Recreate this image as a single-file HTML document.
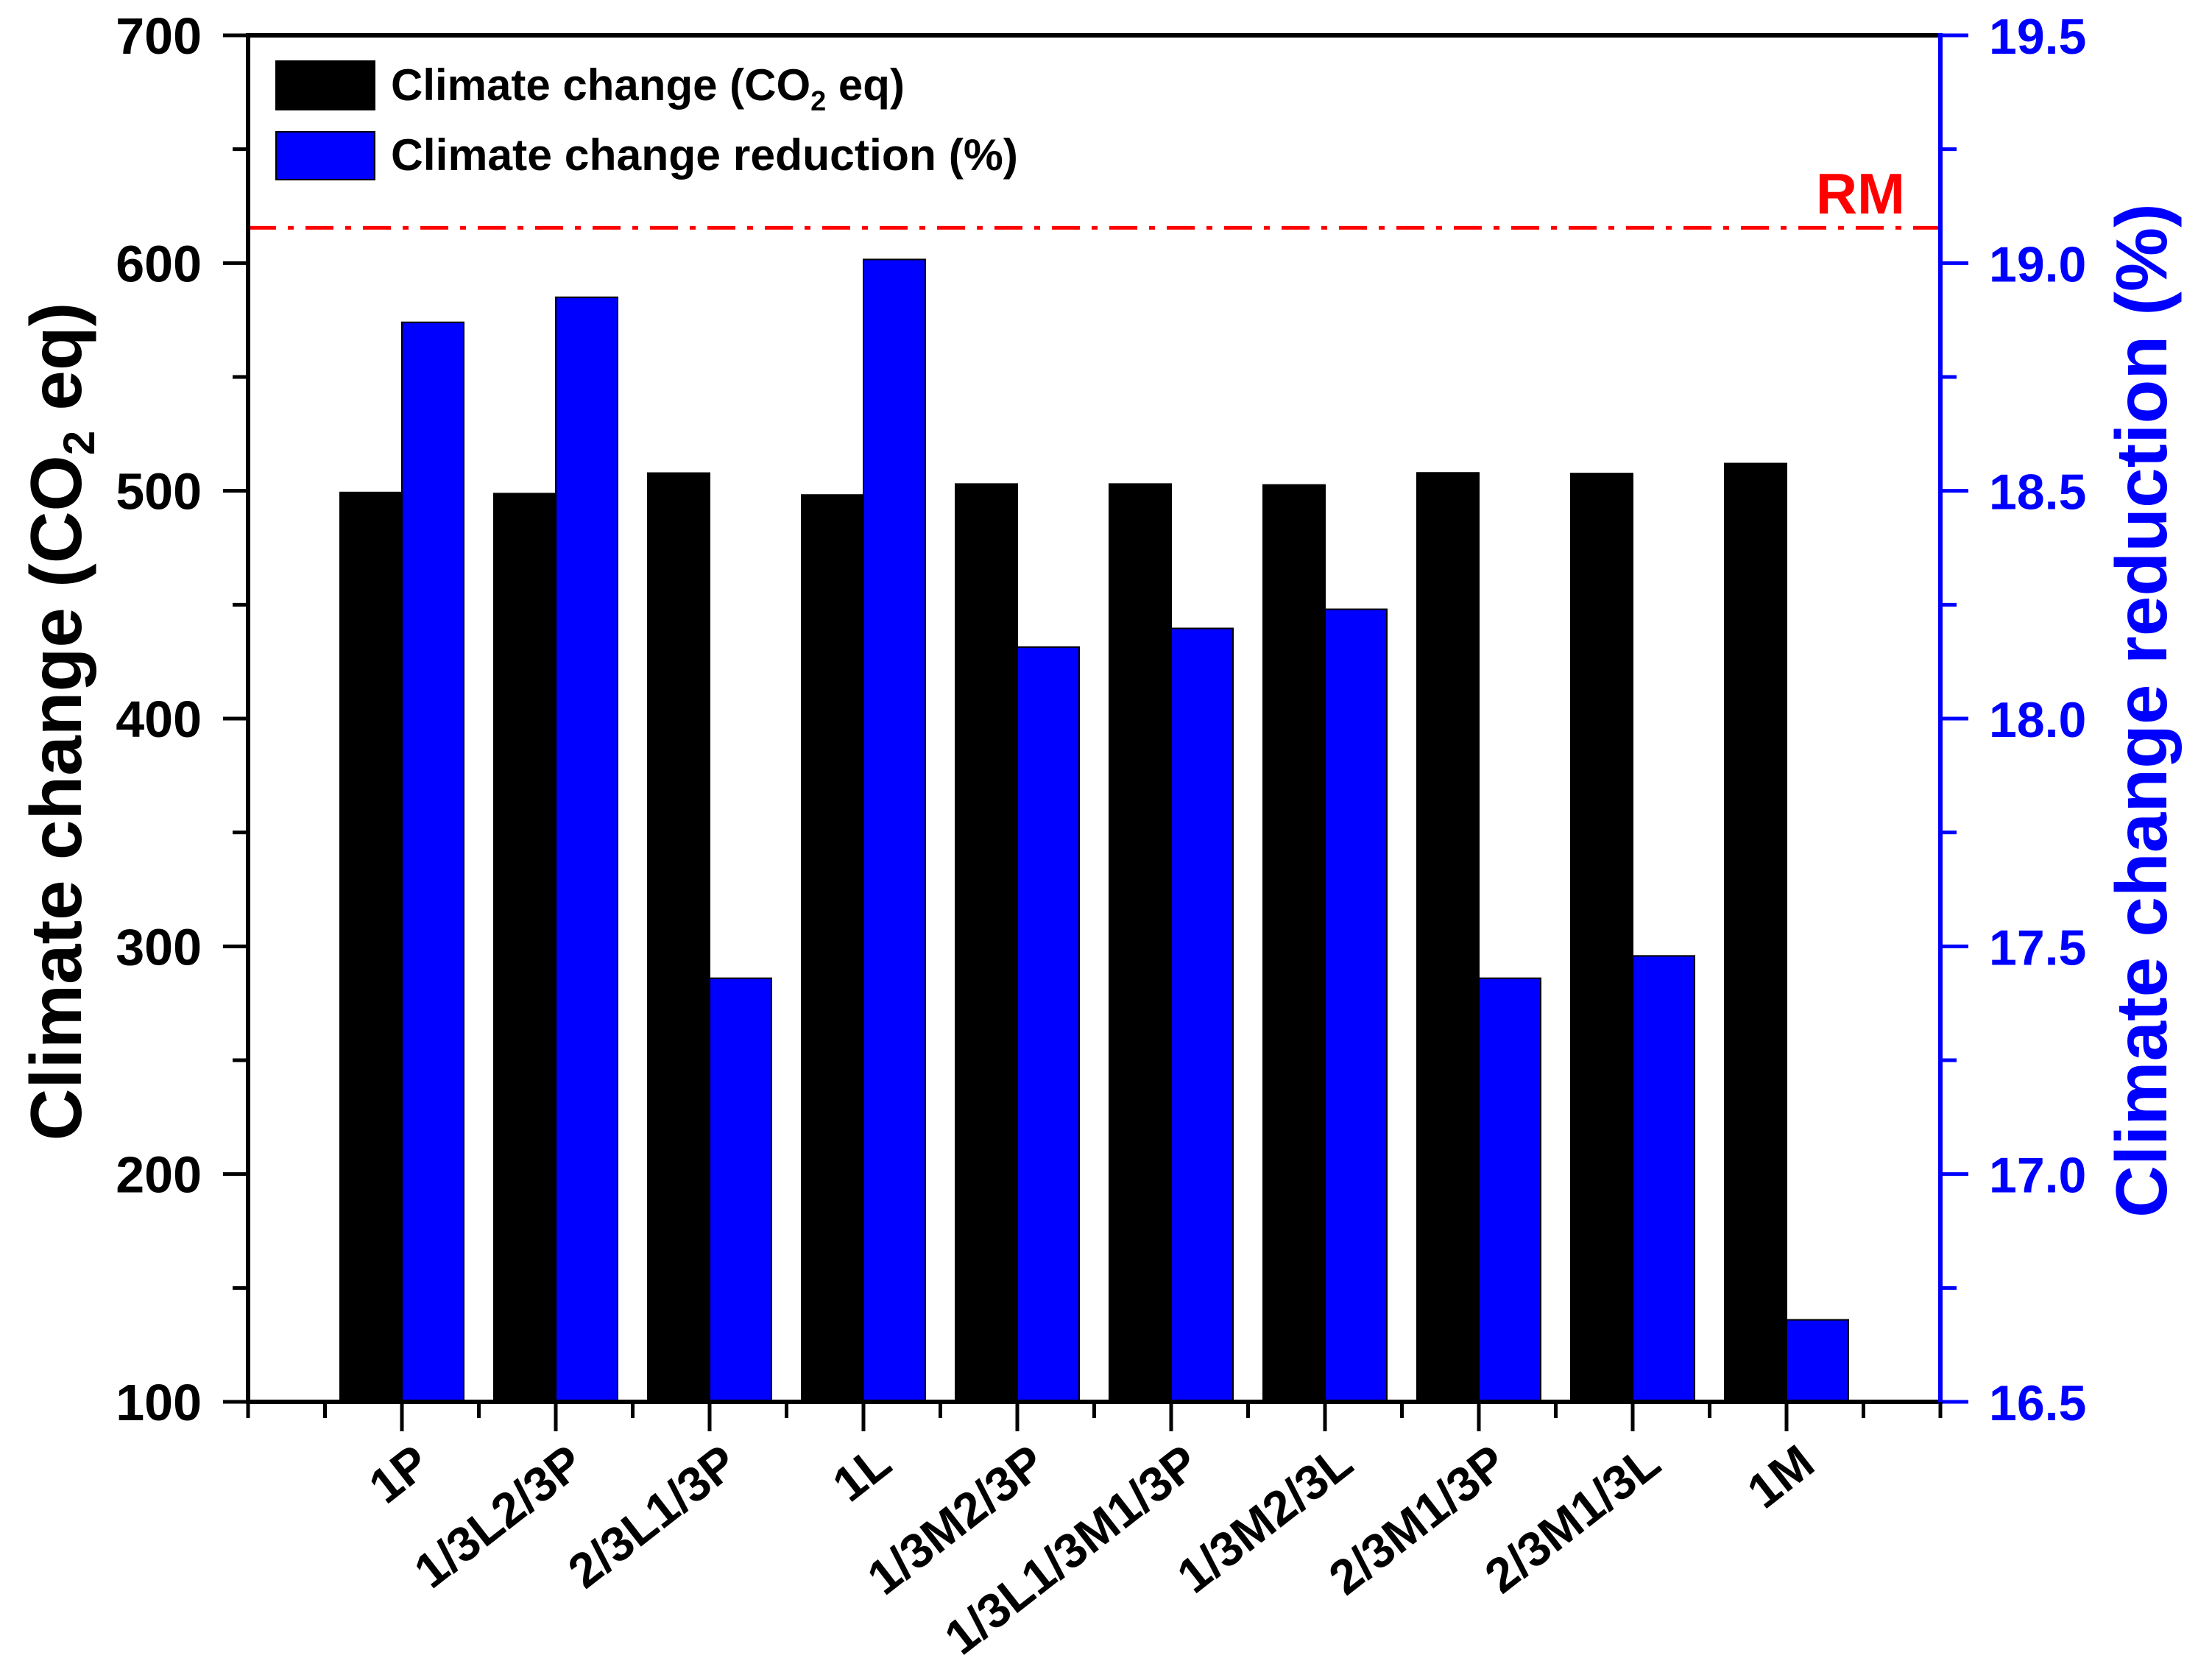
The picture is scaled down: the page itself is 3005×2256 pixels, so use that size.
<!DOCTYPE html>
<html><head><meta charset="utf-8"><style>
html,body{margin:0;padding:0;background:#fff;}
svg{display:block;}
text{font-family:"Liberation Sans",Arial,sans-serif;font-weight:bold;}
</style></head><body>
<svg id="chart" width="3005" height="2256" viewBox="0 0 3005 2256" xmlns="http://www.w3.org/2000/svg">
<g id="grid"></g>
</svg>
<script>
const categories = ["1P","1/3L2/3P","2/3L1/3P","1L","1/3M2/3P","1/3L1/3M1/3P","1/3M2/3L","2/3M1/3P","2/3M1/3L","1M"];
const climateChange = [499.3, 498.8, 507.8, 498.2, 503.0, 503.0, 502.6, 507.9, 507.6, 512.0];
const reduction = [18.87, 18.925, 17.43, 19.008, 18.157, 18.198, 18.24, 17.43, 17.479, 16.68];
const leftTicks = [100,200,300,400,500,600,700];
const rightTicks = [16.5,17.0,17.5,18.0,18.5,19.0,19.5];
const rmValue = 615.5;

const NS = "http://www.w3.org/2000/svg";
const svg = document.getElementById('chart');
const X0 = 337, X1 = 2636, Y0 = 1904, Y1 = 48;
const xScale = v => X0 + (v / 11) * (X1 - X0);
const yLeft = v => Y0 - (v - 100) / 600 * (Y0 - Y1);
const yRight = v => Y0 - (v - 16.5) / 3 * (Y0 - Y1);
const BW = 84;

function mk(tag, attrs, parent) {
  const e = document.createElementNS(NS, tag);
  for (const k in attrs) e.setAttribute(k, attrs[k]);
  (parent || svg).appendChild(e);
  return e;
}

// bars
categories.forEach((c, i) => {
  const cx = xScale(i + 1);
  const yb = yLeft(climateChange[i]);
  const b = mk('rect', {x: cx - BW, y: yb, width: BW, height: Y0 - yb, fill: '#000', stroke: '#000', 'stroke-width': 2});
  
  
  const yr = yRight(reduction[i]);
  const r = mk('rect', {x: cx, y: yr, width: BW, height: Y0 - yr, fill: '#0000ff', stroke: '#000', 'stroke-width': 2});
  
  
});

// RM line
const rmY = yLeft(rmValue);
const rm = mk('line', {x1: X0, y1: rmY, x2: X1, y2: rmY, stroke: '#ff0000', 'stroke-width': 5, 'stroke-dasharray': '38 16 8 16'});


const rmt = mk('text', {x: 2588, y: 290, 'font-size': 78, fill: '#ff0000', 'text-anchor': 'end'});
rmt.textContent = 'RM';



// axes
const topAx = mk('line', {x1: X0, y1: Y1, x2: X1, y2: Y1, stroke: '#000', 'stroke-width': 6});


const botAx = mk('line', {x1: X0, y1: Y0, x2: X1, y2: Y0, stroke: '#000', 'stroke-width': 6});


const leftAx = mk('line', {x1: X0, y1: Y1 - 3, x2: X0, y2: Y0 + 3, stroke: '#000', 'stroke-width': 6});


const rightAx = mk('line', {x1: X1, y1: Y1 - 3, x2: X1, y2: Y0 + 3, stroke: '#0000ff', 'stroke-width': 6});



// left ticks
leftTicks.forEach((v, i) => {
  const y = yLeft(v);
  mk('line', {x1: X0 - 34, y1: y, x2: X0, y2: y, stroke: '#000', 'stroke-width': 5});
  if (i < leftTicks.length - 1) {
    const ym = yLeft(v + 50);
    mk('line', {x1: X0 - 21, y1: ym, x2: X0, y2: ym, stroke: '#000', 'stroke-width': 5});
  }
  const t = mk('text', {x: 274, y: y + 25, 'font-size': 70, 'text-anchor': 'end', fill: '#000'});
  t.textContent = v;
  
  
});
// right ticks
rightTicks.forEach((v, i) => {
  const y = yRight(v);
  mk('line', {x1: X1, y1: y, x2: X1 + 38, y2: y, stroke: '#0000ff', 'stroke-width': 5});
  if (i < rightTicks.length - 1) {
    const ym = yRight(v + 0.25);
    mk('line', {x1: X1, y1: ym, x2: X1 + 22, y2: ym, stroke: '#0000ff', 'stroke-width': 5});
  }
  const t = mk('text', {x: 2702, y: y + 25, 'font-size': 68, 'text-anchor': 'start', fill: '#0000ff'});
  t.textContent = v.toFixed(1);
  
  
});
// x ticks
for (let k = 0; k <= 22; k++) {
  const v = k / 2;
  const x = xScale(v);
  const major = (k % 2 === 0) && k > 0 && k < 22;
  mk('line', {x1: x, y1: Y0, x2: x, y2: Y0 + (major ? 40 : 22), stroke: '#000', 'stroke-width': 5});
}
categories.forEach((c, i) => {
  const x = xScale(i + 1) + 42, y = 1995;
  const t = mk('text', {x: x, y: y, 'font-size': 66, 'text-anchor': 'end', fill: '#000', transform: `rotate(-38 ${x} ${y})`});
  t.textContent = c;
  
  
});

// axis titles
const lt = mk('text', {x: 0, y: 0, 'font-size': 98, 'text-anchor': 'middle', fill: '#000', transform: 'translate(110 980) rotate(-90)'});
lt.innerHTML = 'Climate change (CO<tspan font-size="60" dy="18">2</tspan><tspan dy="-18"> eq)</tspan>';


const rt = mk('text', {x: 0, y: 0, 'font-size': 98, 'text-anchor': 'middle', fill: '#0000ff', transform: 'translate(2943 965) rotate(-90)'});
rt.textContent = 'Climate change reduction (%)';



// legend
const lg = mk('g', {});


const s1 = mk('rect', {x: 375, y: 83, width: 134, height: 66, fill: '#000', stroke: '#000', 'stroke-width': 2}, lg);


const s2 = mk('rect', {x: 375, y: 179, width: 134, height: 65, fill: '#0000ff', stroke: '#000', 'stroke-width': 2}, lg);


const l1 = mk('text', {x: 531, y: 136, 'font-size': 60, fill: '#000'}, lg);
l1.innerHTML = 'Climate change (CO<tspan font-size="38" dy="14">2</tspan><tspan dy="-14"> eq)</tspan>';


const l2 = mk('text', {x: 531, y: 231, 'font-size': 60, fill: '#000', textLength: 852, lengthAdjust: 'spacingAndGlyphs'}, lg);
l2.textContent = 'Climate change reduction (%)';


</script>
</body></html>
